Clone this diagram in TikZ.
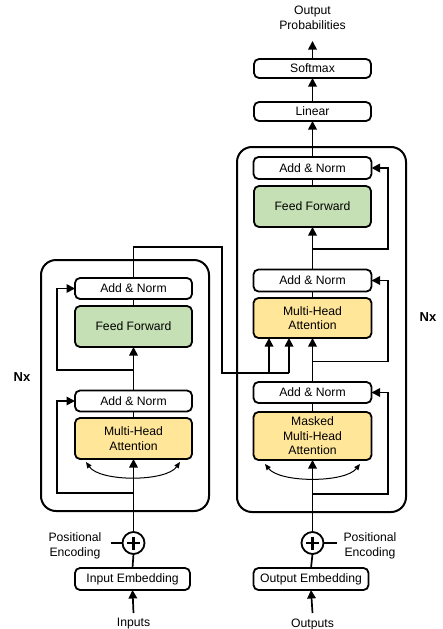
\documentclass[tikz,border=0pt]{standalone}
\usepackage{fontspec}
\setmainfont{Liberation Sans}
\usetikzlibrary{arrows.meta,calc}
\definecolor{ffgreen}{HTML}{C5E0B4}
\definecolor{attyellow}{HTML}{FFE699}
\begin{document}
\begin{tikzpicture}[x=1pt,y=-1pt,
  every node/.style={font=\fontsize{12.2}{14.6}\selectfont, inner sep=0pt, outer sep=0pt},
  blk/.style={draw, line width=1.8pt, rounded corners=5pt, minimum width=117pt, minimum height=21pt, align=center, fill=white},
  ffblk/.style={blk, fill=ffgreen, minimum height=41pt},
  attblk/.style={blk, fill=attyellow, minimum height=41pt},
  bigbox/.style={draw, line width=2pt, rounded corners=15pt},
  conn/.style={line width=1.7pt},
  arr/.style={conn, -{Triangle[length=8.5pt,width=8.5pt]}},
  arcarr/.style={line width=1pt, {Triangle[length=6pt,width=5pt]}-{Triangle[length=6pt,width=5pt]}},
  pe/.style={circle, draw, line width=1.8pt, minimum size=22pt, fill=white},
  plusline/.style={line width=2.6pt},
  nx/.style={font=\fontsize{13}{15}\selectfont\bfseries}
]
\useasboundingbox (0,0) rectangle (443,629);

% big boxes
\node[bigbox, minimum width=168pt, minimum height=251pt] (enc) at (125,385.5) {};
\node[bigbox, minimum width=169pt, minimum height=365pt] (dec) at (321.5,329.5) {};

% encoder blocks
\node[blk] (eAN1) at (133.5,288.5) {Add \& Norm};
\node[ffblk] (eFF) at (133.5,326.5) {Feed Forward};
\node[blk] (eAN2) at (133.5,401) {Add \& Norm};
\node[attblk] (eMHA) at (133.5,438.5) {Multi-Head\\Attention};
\node[pe] (epe) at (133.5,543) {};
\node[blk, minimum width=115pt, minimum height=22pt] (eEmb) at (132.5,579) {Input Embedding};
\node (inputs) at (133.5,624) {Inputs};
\node[align=center] (epetxt) at (75,546) {Positional\\Encoding};
\node[nx] (nxl) at (22,377) {Nx};

% decoder blocks
\node[blk, minimum height=19pt] (soft) at (312.5,68.5) {Softmax};
\node[blk, minimum height=19pt] (lin) at (312.5,111.5) {Linear};
\node[align=center] (outprob) at (312.5,18) {Output\\Probabilities};
\node[blk, minimum width=118pt, minimum height=22pt] (dAN3) at (312.5,168) {Add \& Norm};
\node[ffblk] (dFF) at (312.5,206.5) {Feed Forward};
\node[blk, minimum width=118pt, minimum height=22pt] (dAN2) at (312.5,280.5) {Add \& Norm};
\node[attblk, minimum width=118pt, minimum height=40pt] (dMHA) at (312.5,318) {Multi-Head\\Attention};
\node[blk, minimum width=118pt] (dAN1) at (312.5,392.5) {Add \& Norm};
\node[attblk, minimum width=118pt, minimum height=48pt] (dMMHA) at (312.5,436) {Masked\\Multi-Head\\Attention};
\node[pe] (dpe) at (312.5,543) {};
\node[blk, minimum width=115pt, minimum height=22pt] (dEmb) at (311,579) {Output Embedding};
\node (outputs) at (312.5,624) {Outputs};
\node[align=center] (dpetxt) at (370,546) {Positional\\Encoding};
\node[nx] (nxr) at (428,317) {Nx};

% plus signs
\foreach \c in {epe,dpe}{
  \draw[plusline] ($(\c.center)+(-6.5,0)$) -- ($(\c.center)+(6.5,0)$);
  \draw[plusline] ($(\c.center)+(0,-6.5)$) -- ($(\c.center)+(0,6.5)$);
}

% coordinates
\coordinate (inS) at (133.5,613);
\coordinate (outS) at (312.5,613);
\coordinate (eR1) at (133.5,493);
\coordinate (eL1) at (57,493);
\coordinate (eR2) at (133.5,370);
\coordinate (eL2) at (57,370);
\coordinate (eTop) at (133.5,247);
\coordinate (eMid) at (222,247);
\coordinate (eLow) at (222,373);
\coordinate (k1) at (269,373);
\coordinate (k2) at (289,373);
\coordinate (dR1) at (312.5,494);
\coordinate (dX1) at (388,494);
\coordinate (dR2) at (312.5,361.5);
\coordinate (dX2) at (388,361.5);
\coordinate (dR3) at (312.5,249);
\coordinate (dX3) at (388,249);
\coordinate (probS) at (312.5,41);
\coordinate (epeL) at (111,543);
\coordinate (dpeR) at (337,543);
\coordinate (eA1) at (86,462);
\coordinate (eA2) at (180,462);
\coordinate (dA1) at (265,464);
\coordinate (dA2) at (360,464);

% encoder connectors
\draw[arr] (inS) -- (eEmb.south);
\draw[conn] (eEmb.north) -- (epe.south);
\draw[conn] (epeL) -- (epe.west);
\draw[arr] (epe.north) -- (eMHA.south);
\draw[arr] (eR1) -- (eL1) |- (eAN2.west);
\draw[arcarr] (eA1) .. controls (100,482) and (166,482) .. (eA2);
\draw[conn] (eMHA.north) -- (eAN2.south);
\draw[arr] (eAN2.north) -- (eFF.south);
\draw[arr] (eR2) -- (eL2) |- (eAN1.west);
\draw[conn] (eFF.north) -- (eAN1.south);
\draw[conn] (eAN1.north) -- (eTop) -- (eMid) -- (eLow) -- (k2);
\draw[arr] (k1) -- (k1 |- dMHA.south);
\draw[arr] (k2) -- (k2 |- dMHA.south);

% decoder connectors
\draw[arr] (outS) -- (dEmb.south);
\draw[conn] (dEmb.north) -- (dpe.south);
\draw[conn] (dpeR) -- (dpe.east);
\draw[arr] (dpe.north) -- (dMMHA.south);
\draw[arcarr] (dA1) .. controls (280,483) and (345,483) .. (dA2);
\draw[arr] (dR1) -- (dX1) |- (dAN1.east);
\draw[conn] (dMMHA.north) -- (dAN1.south);
\draw[arr] (dAN1.north) -- (dMHA.south);
\draw[arr] (dR2) -- (dX2) |- (dAN2.east);
\draw[conn] (dMHA.north) -- (dAN2.south);
\draw[arr] (dAN2.north) -- (dFF.south);
\draw[arr] (dR3) -- (dX3) |- (dAN3.east);
\draw[conn] (dFF.north) -- (dAN3.south);
\draw[arr] (dAN3.north) -- (lin.south);
\draw[arr] (lin.north) -- (soft.south);
\draw[arr] (soft.north) -- (probS);
\end{tikzpicture}
\end{document}
